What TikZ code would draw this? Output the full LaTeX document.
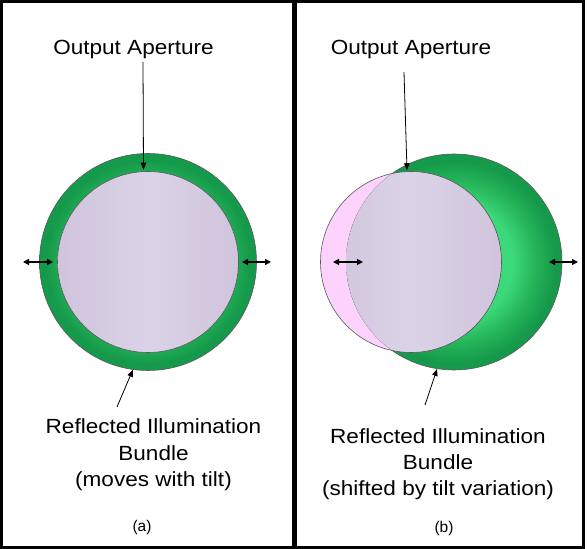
\documentclass[tikz,border=0pt]{standalone}
\usepackage{fontspec}
\setmainfont{Liberation Sans}
\usepackage{graphicx}
\usetikzlibrary{arrows.meta}
\definecolor{gd}{HTML}{15994A}
\definecolor{gm}{HTML}{25B358}
\definecolor{gl}{HTML}{3CD97A}
\definecolor{lilacD}{HTML}{D0C4DC}
\definecolor{lilacL}{HTML}{DAD3E7}
\definecolor{pinkF}{HTML}{FDD2FD}
\definecolor{edge}{HTML}{5A5A5A}
\pgfdeclareradialshading{greenball}{\pgfpoint{0bp}{0bp}}{color(0bp)=(gl); color(13.5bp)=(gl); color(19bp)=(gm); color(23.5bp)=(gd); color(25bp)=(gd); color(50bp)=(gd)}
\newcommand\hs[1]{\scalebox{1.1}[1]{#1}}
\begin{document}
\begin{tikzpicture}[x=1pt,y=1pt,
  frame/.style={draw=black,line width=2.8pt},
  lbl/.style={font=\fontsize{20.5}{24}\selectfont,inner sep=0pt,anchor=base},
  capt/.style={font=\fontsize{15.5}{18}\selectfont,inner sep=0pt,anchor=base},
  pointer/.style={draw=black,line width=0.8pt,-{Triangle[length=7pt,width=5.5pt]}},
  shiftarrow/.style={draw=black,line width=1.3pt,{Triangle[length=6pt,width=6pt]}-{Triangle[length=6pt,width=6pt]}},
  greendisc/.style={circle,inner sep=0pt,draw=edge,line width=0.6pt,shade,shading=greenball},
  aperture/.style={circle,inner sep=0pt,minimum size=181pt,draw=edge,line width=0.6pt}]
\useasboundingbox (0,0) rectangle (587,549);
\fill[white] (0,0) rectangle (587,549);
% frames
\draw[frame] (1.4,1.4) rectangle (293.3,547.6);
\draw[frame] (295.2,1.4) rectangle (583.3,547.6);

% ---------------- panel (a) ----------------
\node[greendisc,minimum size=217pt] (ga) at (148,287) {};
\node[aperture,left color=lilacD,right color=lilacD,middle color=lilacL] (ia) at (148,287) {};

\node[lbl] (oa) at (133.5,494) {\hs{Output Aperture}};
\coordinate (oaS) at (143,487);
\draw[pointer] (oaS) -- ([xshift=-4.5pt,yshift=1.5pt]ia.north);

\coordinate (al1) at (23,287);
\coordinate (al2) at (53,287);
\draw[shiftarrow] (al1) -- (al2);
\coordinate (ar1) at (242,287);
\coordinate (ar2) at (271,287);
\draw[shiftarrow] (ar1) -- (ar2);

\node[lbl] (ra1) at (153.5,115) {\hs{Reflected Illumination}};
\node[lbl] (ra2) at (153.5,88) {\hs{Bundle}};
\node[lbl] (ra3) at (153.5,62) {\hs{(moves with tilt)}};
\coordinate (raT) at (117,142);
\draw[pointer] (raT) -- (ga.-98);

\node[capt] (capa) at (142,17.5) {(a)};

% ---------------- panel (b) ----------------
\node[greendisc,minimum size=216pt] (gb) at (454,287) {};
\node[circle,inner sep=0pt,minimum size=181pt,fill=pinkF] (ib) at (411,287) {};
\begin{scope}
  \clip (454,287) circle (108);
  \fill[left color=lilacD,right color=lilacD,middle color=lilacL] (411,287) circle (90.5);
\end{scope}
\node[aperture] (ibo) at (411,287) {};

\node[lbl] (ob) at (411,494) {\hs{Output Aperture}};
\coordinate (obS) at (404,477);
\draw[pointer] (obS) -- ([xshift=-4pt,yshift=1pt]ibo.north);

\coordinate (bl1) at (333,287);
\coordinate (bl2) at (363,287);
\draw[shiftarrow] (bl1) -- (bl2);
\coordinate (br1) at (549,287);
\coordinate (br2) at (578,287);
\draw[shiftarrow] (br1) -- (br2);

\node[lbl] (rb1) at (438,105) {\hs{Reflected Illumination}};
\node[lbl] (rb2) at (438,79) {\hs{Bundle}};
\node[lbl] (rb3) at (438,53) {\hs{(shifted by tilt variation)}};
\coordinate (rbT) at (425,144);
\draw[pointer] (rbT) -- (gb.-99);

\node[capt] (capb) at (444,16.5) {(b)};
\end{tikzpicture}
\end{document}
